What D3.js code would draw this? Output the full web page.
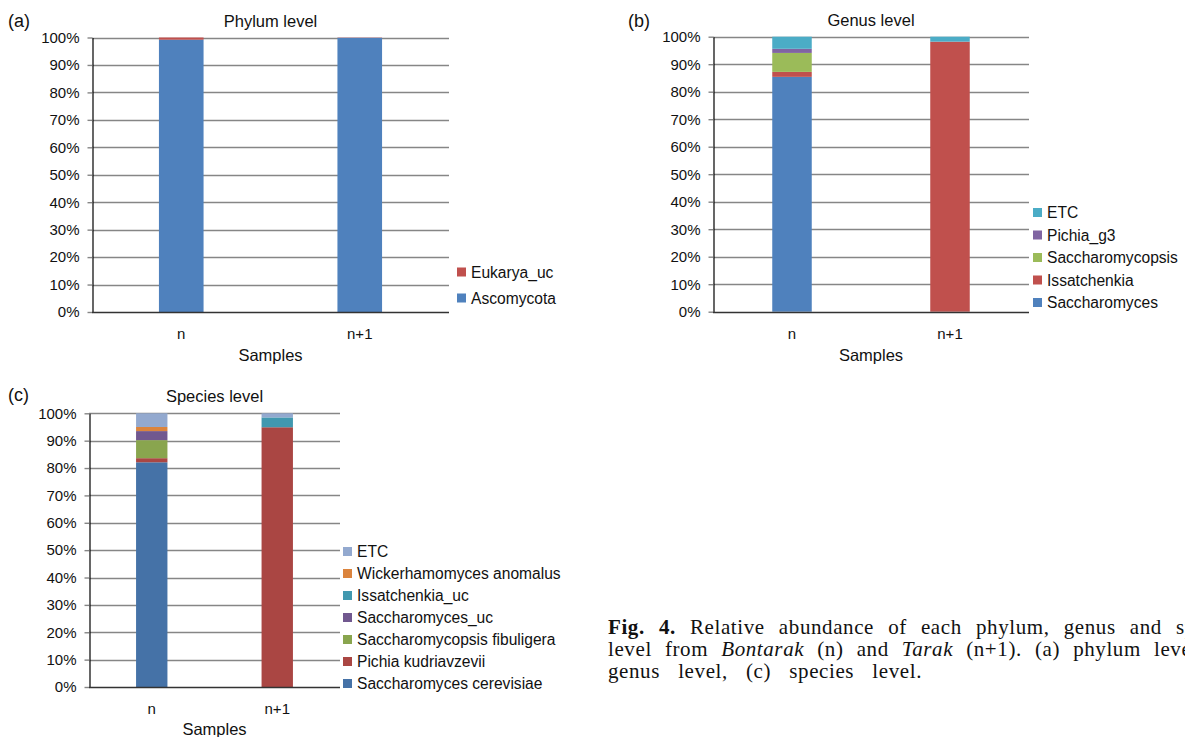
<!DOCTYPE html>
<html>
<head>
<meta charset="utf-8">
<script src="https://cdn.jsdelivr.net/npm/d3@7"></script>
<style>
  html, body { margin: 0; padding: 0; background: #fff; }
  svg { display: block; }
  text { font-family: "Liberation Sans", Arial, sans-serif; fill: #111; }
  .caption text { font-family: "Liberation Serif", "Times New Roman", serif; letter-spacing: 0.6px; }
</style>
</head>
<body>
<svg id="fig" width="1185" height="737"></svg>
<script>
// ---- data -------------------------------------------------------------
const samples = ["n", "n+1"];
const percentTicks = [0, 10, 20, 30, 40, 50, 60, 70, 80, 90, 100];

// Phylum level (% relative abundance per sample)
const phylumKeys = ["Ascomycota", "Eukarya_uc"];
const ascomycota = [99.2, 99.9];
const eukaryaUc = [0.8, 0.1];

// Genus level
const genusKeys = ["Saccharomyces", "Issatchenkia", "Saccharomycopsis", "Pichia_g3", "ETC"];
const saccharomyces = [85.4, 0];
const issatchenkia = [1.8, 98.2];
const saccharomycopsis = [6.9, 0];
const pichiaG3 = [1.5, 0];
const genusEtc = [4.4, 1.8];

// Species level
const speciesKeys = ["Saccharomyces cerevisiae", "Pichia kudriavzevii", "Saccharomycopsis fibuligera",
  "Saccharomyces_uc", "Issatchenkia_uc", "Wickerhamomyces anomalus", "ETC"];
const sCerevisiae = [82.1, 0];
const pKudriavzevii = [1.5, 94.9];
const sFibuligera = [6.6, 0];
const saccharomycesUc = [3.3, 0];
const issatchenkiaUc = [0, 3.6];
const wAnomalus = [1.5, 0];
const speciesEtc = [5.0, 1.5];

// ---- helpers ----------------------------------------------------------
function toRows(keys, series) {
  return samples.map((s, i) => {
    const row = { sample: s };
    keys.forEach((k, j) => { row[k] = series[j][i]; });
    return row;
  });
}

const svg = d3.select("#fig");
const GRID = "#868686";

function drawPanel(cfg) {
  const g = svg.append("g");
  const x = d3.scaleBand().domain(samples).range([cfg.x0, cfg.x1])
    .paddingInner(0.75).paddingOuter(0.375);
  const y = d3.scaleLinear().domain([0, 100]).range([cfg.yBottom, cfg.yTop]);

  // gridlines
  g.append("g").selectAll("line").data(percentTicks.filter(t => t > 0)).join("line")
    .attr("x1", cfg.x0).attr("x2", cfg.x1)
    .attr("y1", d => Math.round(y(d)) + 0.5).attr("y2", d => Math.round(y(d)) + 0.5)
    .attr("stroke", GRID).attr("stroke-width", 1.4);

  // stacked bars
  const rows = toRows(cfg.keys, cfg.series);
  const stacked = d3.stack().keys(cfg.keys)(rows);
  const color = d3.scaleOrdinal().domain(cfg.keys).range(cfg.colors);
  g.append("g").selectAll("g").data(stacked).join("g")
    .attr("fill", d => color(d.key))
    .selectAll("rect").data(d => d).join("rect")
    .attr("x", d => x(d.data.sample))
    .attr("width", x.bandwidth())
    .attr("y", d => y(d[1]))
    .attr("height", d => Math.max(0, y(d[0]) - y(d[1])));

  // y axis
  const yAxis = d3.axisLeft(y).tickValues(percentTicks).tickFormat(d => d + "%")
    .tickSizeInner(5).tickSizeOuter(0).tickPadding(8);
  const ya = g.append("g").attr("transform", `translate(${cfg.x0 + 0.5},0)`).call(yAxis);
  ya.select(".domain").attr("stroke", "#000").attr("stroke-width", 1.2);
  ya.selectAll(".tick line").attr("stroke", GRID).attr("stroke-width", 1.4);
  ya.selectAll(".tick text").style("font-size", "15px").attr("fill", "#111")
    .style("font-family", "Liberation Sans, Arial, sans-serif");

  // x axis
  const xAxis = d3.axisBottom(x).tickSize(0).tickPadding(16);
  const xa = g.append("g").attr("transform", `translate(0,${Math.round(cfg.yBottom) + 0.5})`).call(xAxis);
  xa.select(".domain").attr("stroke", "#333").attr("stroke-width", 1.4)
    .attr("d", `M${cfg.x0},0H${cfg.x1}`);
  xa.selectAll(".tick text").style("font-size", "15px").attr("fill", "#111")
    .style("font-family", "Liberation Sans, Arial, sans-serif");

  // titles
  const cx = (cfg.x0 + cfg.x1) / 2;
  g.append("text").attr("x", cx).attr("y", cfg.yTop - 11).attr("text-anchor", "middle")
    .style("font-size", "16.5px").text(cfg.title);
  g.append("text").attr("x", cx).attr("y", cfg.samplesY).attr("text-anchor", "middle")
    .style("font-size", "16.5px").text("Samples");
  g.append("text").attr("x", cfg.letterX).attr("y", cfg.letterY)
    .style("font-size", "18px").text(cfg.letter);

  // legend (reverse stack order, top entry = top of stack)
  const legendKeys = cfg.keys.slice().reverse();
  const lg = g.append("g").selectAll("g").data(legendKeys).join("g")
    .attr("transform", (d, i) => `translate(${cfg.legendX},${cfg.legendY + i * cfg.legendStep})`);
  lg.append("rect").attr("x", 0).attr("y", -cfg.sw / 2).attr("width", cfg.sw).attr("height", cfg.sw)
    .attr("fill", d => color(d));
  lg.append("text").attr("x", cfg.sw + 5).attr("y", 0).attr("dy", "0.36em")
    .style("font-size", "15.6px").text(d => d);
}

drawPanel({
  x0: 92, x1: 449, yTop: 37.5, yBottom: 312, samplesY: 361,
  keys: phylumKeys, series: [ascomycota, eukaryaUc],
  colors: ["#4F81BD", "#C0504D"],
  title: "Phylum level", letter: "(a)", letterX: 8, letterY: 27,
  legendX: 457, legendY: 272, legendStep: 26, sw: 9
});

drawPanel({
  x0: 713, x1: 1029, yTop: 36.7, yBottom: 311.7, samplesY: 361,
  keys: genusKeys, series: [saccharomyces, issatchenkia, saccharomycopsis, pichiaG3, genusEtc],
  colors: ["#4F81BD", "#C0504D", "#9BBB59", "#8064A2", "#4BACC6"],
  title: "Genus level", letter: "(b)", letterX: 628, letterY: 27,
  legendX: 1033, legendY: 212.5, legendStep: 22.5, sw: 9
});

drawPanel({
  x0: 89, x1: 340, yTop: 413.3, yBottom: 687, samplesY: 735,
  keys: speciesKeys,
  series: [sCerevisiae, pKudriavzevii, sFibuligera, saccharomycesUc, issatchenkiaUc, wAnomalus, speciesEtc],
  colors: ["#4572A7", "#AA4643", "#89A54E", "#71588F", "#4198AF", "#DB843D", "#93A9CF"],
  title: "Species level", letter: "(c)", letterX: 8, letterY: 401,
  legendX: 343, legendY: 551.5, legendStep: 22, sw: 9
});

// ---- figure caption (justified lines) --------------------------------
// anchorWord: index of the word whose left edge sits at anchorX;
// endX: right edge of the last word (used for the final line).
const capLines = [
  { words: [["Fig.", "b"], ["4.", "b"], ["Relative"], ["abundance"], ["of"], ["each"], ["phylum,"], ["genus"], ["and"], ["species"]],
    anchorWord: 9, anchorX: 1176 },
  { words: [["level"], ["from"], ["Bontarak", "i"], ["(n)"], ["and"], ["Tarak", "i"], ["(n+1)."], ["(a)"], ["phylum"], ["level,"], ["(b)"]],
    anchorWord: 9, anchorX: 1154 },
  { words: [["genus"], ["level,"], ["(c)"], ["species"], ["level."]], endX: 922 }
];
const capX = 608, capY0 = 634, capLead = 22, capSize = 21;
const cap = svg.append("g").attr("class", "caption");

function styleWord(sel, w) {
  sel.style("font-size", capSize + "px")
    .style("font-weight", w[1] === "b" ? "bold" : "normal")
    .style("font-style", w[1] === "i" ? "italic" : "normal");
}
capLines.forEach((line, li) => {
  const y = capY0 + li * capLead;
  const widths = line.words.map(w => {
    const t = cap.append("text").text(w[0]).call(styleWord, w);
    const len = t.node().getComputedTextLength();
    t.remove();
    return len;
  });
  let gap;
  if (line.anchorWord !== undefined) {
    const before = d3.sum(widths.slice(0, line.anchorWord));
    gap = (line.anchorX - capX - before) / line.anchorWord;
  } else {
    gap = (line.endX - capX - d3.sum(widths)) / (widths.length - 1);
  }
  let cur = capX;
  line.words.forEach((w, i) => {
    cap.append("text").attr("x", cur).attr("y", y).text(w[0]).call(styleWord, w).attr("fill", "#111");
    cur += widths[i] + gap;
  });
});
</script>
</body>
</html>
